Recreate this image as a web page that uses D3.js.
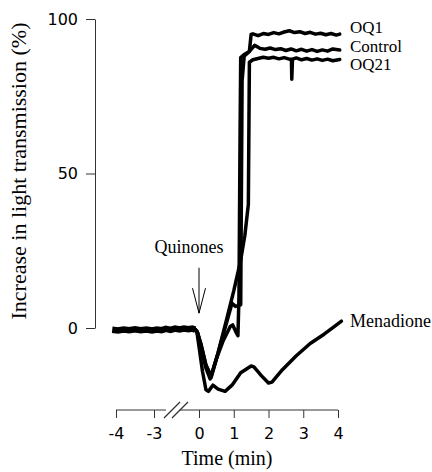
<!DOCTYPE html>
<html>
<head>
<meta charset="utf-8">
<script src="https://cdn.jsdelivr.net/npm/d3@7"></script>
<style>
body { margin: 0; background: #fff; }
svg { display: block; }
</style>
</head>
<body>
<div id="chart"></div>
<script>
var w = 432;
var h = 472;

// time (min), increase in light transmission (%)
var baseline = [[-4.1, -0.6], [-3.95, -0.8], [-3.8, -0.5], [-3.65, -0.7], [-3.5, -0.4], [-3.35, -0.7],
    [-3.2, -0.5], [-3.05, -0.8], [-2.8, -0.5], [-2.5, -0.7], [-2.2, -0.3], [-1.9, -0.6], [-1.6, -0.2],
    [-1.3, -0.5], [-1.0, -0.2], [-0.7, -0.4], [-0.45, -0.2], [-0.25, -0.5]];
var control = [[-0.25, -0.5], [-0.1, -1.5], [0.05, -6], [0.2, -13], [0.32, -16.5], [0.5, -10], [0.7, -4],
    [0.9, 0.5], [0.97, 1], [1.05, -1], [1.12, -2.5], [1.15, 10], [1.18, 60], [1.2, 87.5], [1.3, 88.5],
    [1.45, 89.5], [1.6, 91.5], [1.75, 90.5], [1.9, 90.2], [2.05, 90.6], [2.2, 90.1], [2.35, 90.4],
    [2.5, 89.8], [2.65, 90.3], [2.8, 89.7], [2.95, 90.2], [3.1, 89.6], [3.25, 90.1], [3.4, 89.5],
    [3.55, 90.0], [3.7, 89.6], [3.85, 90.3], [4.05, 90.0]];
var oq1 = [[-0.25, -0.5], [-0.1, -1.5], [0.05, -5], [0.2, -12], [0.35, -16], [0.55, -8], [0.75, 0],
    [0.95, 8], [1.05, 7], [1.2, 7.5], [1.24, 80], [1.3, 88], [1.45, 89.5], [1.5, 95], [1.55, 95.2],
    [1.7, 94.6], [1.85, 95.3], [2.0, 95.0], [2.15, 95.6], [2.3, 95.2], [2.45, 95.8], [2.6, 96.2],
    [2.75, 95.6], [2.9, 95.9], [3.05, 95.3], [3.2, 95.7], [3.35, 95.1], [3.5, 95.4], [3.65, 94.9],
    [3.8, 95.3], [3.95, 94.8], [4.05, 95.1]];
var oq21 = [[-0.25, -0.5], [-0.1, -1.5], [0.05, -5], [0.2, -12], [0.35, -15.5], [0.55, -8], [0.8, 3],
    [1.0, 12], [1.2, 22], [1.32, 30], [1.42, 40], [1.45, 86], [1.55, 86.8], [1.7, 87.2], [1.85, 87.6],
    [2.0, 87.3], [2.15, 87.6], [2.3, 87.1], [2.45, 87.5], [2.6, 87.0], [2.66, 87.0], [2.67, 80.5],
    [2.69, 87.0], [2.8, 87.4], [2.95, 86.8], [3.1, 87.2], [3.25, 86.7], [3.4, 87.1], [3.55, 86.6],
    [3.7, 87.0], [3.85, 86.5], [4.05, 86.9]];
var menadione = [[-0.25, -0.5], [-0.15, -1], [0.0, -6], [0.1, -14], [0.2, -20], [0.27, -20.5],
    [0.4, -18.5], [0.55, -19.8], [0.75, -20.5], [0.95, -18.5], [1.2, -14.5], [1.5, -12.3], [1.58, -12.6],
    [1.8, -15.5], [2.0, -17.8], [2.1, -17.5], [2.4, -13.5], [2.8, -9], [3.2, -5], [3.6, -2],
    [3.9, 0.5], [4.1, 2.2]];

var series = [
    { name: "OQ1", data: oq1, labelV: 97.2, size: 17 },
    { name: "Control", data: control, labelV: 91.2, size: 17 },
    { name: "OQ21", data: oq21, labelV: 85.2, size: 17 },
    { name: "Menadione", data: menadione, labelV: 2.2, size: 18 }
];

var xTicks = [-4, -3, 0, 1, 2, 3, 4];
var yTicks = [0, 50, 100];

var svg = d3.select("#chart")
    .append("svg")
    .attr("width", w)
    .attr("height", h);

// axis has a break between -3 and 0
var x = d3.scaleLinear()
    .domain([-4, -3, 0, 4])
    .range([116, 154, 199, 338]);

var y = d3.scaleLinear()
    .domain([0, 100])
    .range([328, 19]);

var axisColor = "#333";

// y axis
var yAxis = svg.append("g")
    .attr("transform", "translate(95,0)")
    .call(d3.axisLeft(y).tickValues(yTicks).tickSize(9).tickSizeOuter(0).tickPadding(8));
yAxis.select(".domain").attr("stroke", axisColor);
yAxis.selectAll(".tick line").attr("stroke", axisColor);
yAxis.selectAll(".tick text")
    .attr("font-family", "DejaVu Sans")
    .attr("font-size", "16px")
    .attr("fill", "#000");

// x axis
var axisY = 410;
var xAxis = svg.append("g")
    .attr("transform", "translate(0," + axisY + ")")
    .call(d3.axisBottom(x).tickValues(xTicks).tickSize(8).tickPadding(10));
xAxis.select(".domain").remove();
xAxis.selectAll(".tick line").attr("stroke", axisColor);
xAxis.selectAll(".tick text")
    .attr("font-family", "DejaVu Sans")
    .attr("font-size", "16px")
    .attr("fill", "#000")
    .text(function (d) { return d; });

var gapA = x(-2.2), gapB = x(-1.3);
xAxis.append("line").attr("x1", x(-4)).attr("x2", gapA).attr("y1", 0).attr("y2", 0)
    .attr("stroke", axisColor);
xAxis.append("line").attr("x1", gapB).attr("x2", x(4)).attr("y1", 0).attr("y2", 0)
    .attr("stroke", axisColor);
[gapA, gapA + 8].forEach(function (sx) {
    xAxis.append("line")
        .attr("x1", sx - 2).attr("y1", 8)
        .attr("x2", sx + 14).attr("y2", -8)
        .attr("stroke", axisColor)
        .attr("stroke-width", 1.2);
});

// traces
var line = d3.line()
    .x(function (d) { return x(d[0]); })
    .y(function (d) { return y(d[1]); });

svg.append("path")
    .datum(baseline)
    .attr("d", line)
    .attr("fill", "none")
    .attr("stroke", "#000")
    .attr("stroke-width", 6.5);

svg.selectAll(".trace")
    .data(series)
    .enter()
    .append("path")
    .attr("class", "trace")
    .attr("d", function (d) { return line(d.data); })
    .attr("fill", "none")
    .attr("stroke", "#000")
    .attr("stroke-width", 3.5)
    .attr("stroke-linejoin", "round")
    .attr("stroke-linecap", "round");

svg.selectAll(".label")
    .data(series)
    .enter()
    .append("text")
    .attr("class", "label")
    .attr("x", x(4) + 12)
    .attr("y", function (d) { return y(d.labelV); })
    .attr("dy", "0.32em")
    .attr("font-family", "Liberation Serif")
    .attr("font-size", function (d) { return d.size + "px"; })
    .text(function (d) { return d.name; });

// arrow for quinone addition
var ax = x(0);
svg.append("line")
    .attr("x1", ax).attr("x2", ax)
    .attr("y1", y(19.5)).attr("y2", y(4.8))
    .attr("stroke", "#000").attr("stroke-width", 1);
svg.append("path")
    .attr("d", "M" + (ax - 6.5) + "," + (y(4.8) - 25) + "L" + ax + "," + y(4.8) + "L" + (ax + 6.5) + "," + (y(4.8) - 25))
    .attr("fill", "none")
    .attr("stroke", "#000")
    .attr("stroke-width", 1);
svg.append("text")
    .attr("x", ax - 10)
    .attr("y", y(24.3))
    .attr("text-anchor", "middle")
    .attr("font-family", "Liberation Serif")
    .attr("font-size", "18px")
    .text("Quinones");

// axis titles
svg.append("text")
    .attr("x", 227)
    .attr("y", 465)
    .attr("text-anchor", "middle")
    .attr("font-family", "Liberation Serif")
    .attr("font-size", "20px")
    .text("Time (min)");

svg.append("text")
    .attr("transform", "translate(26,171) rotate(-90)")
    .attr("text-anchor", "middle")
    .attr("font-family", "Liberation Serif")
    .attr("font-size", "22px")
    .text("Increase in light transmission (%)");
</script>
</body>
</html>
